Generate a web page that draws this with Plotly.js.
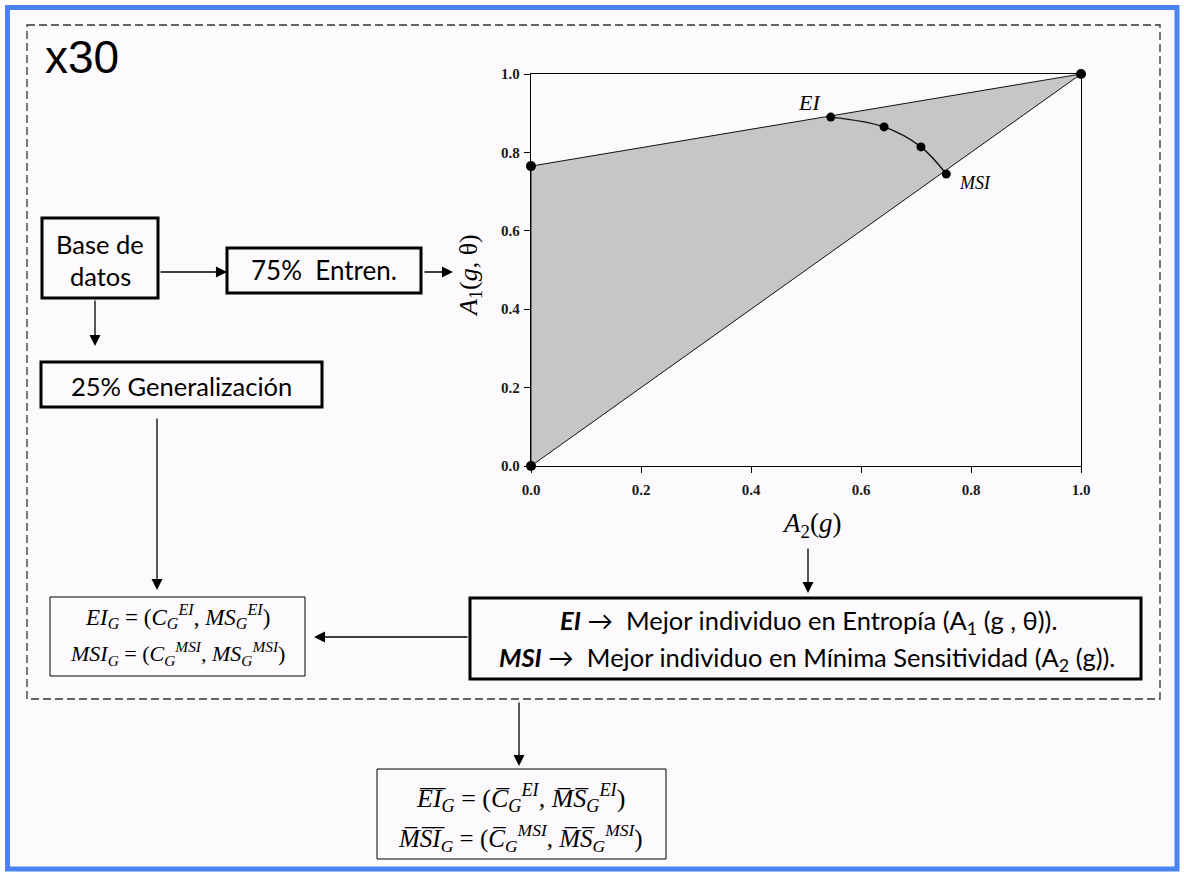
<!DOCTYPE html>
<html>
<head>
<meta charset="utf-8">
<script src="https://cdn.plot.ly/plotly-3.0.1.min.js"></script>
<style>html,body{margin:0;padding:0;background:#fff;}</style>
</head>
<body>
<div id="chart" style="width:1184px;height:875px;"></div>
<script>
// ---- data ----
const regionA2 = [0, 0, 1, 0];
const regionA1 = [0, 0.765, 1, 0];
const frontA2 = [0.545, 0.642, 0.709, 0.755];
const frontA1 = [0.89, 0.865, 0.814, 0.745];
const cornerA2 = [0, 0, 1];
const cornerA1 = [0, 0.765, 1];
const tickVals = [0, 0.2, 0.4, 0.6, 0.8, 1.0];
const tickText = ['0.0', '0.2', '0.4', '0.6', '0.8', '1.0'];
const labelEI = 'EI';
const labelMSI = 'MSI';

// ---- geometry helpers (pixel -> paper) ----
const W = 1184, H = 875;
const X = p => p / W;
const Y = p => 1 - p / H;

const SANS = 'Lato, "Open Sans", sans-serif';
const SERIF = '"Liberation Serif", "DejaVu Serif", serif';

const traces = [
  {x: regionA2, y: regionA1, mode: 'lines', fill: 'toself', fillcolor: '#c6c6c6',
   line: {color: '#111', width: 1}, hoverinfo: 'skip', cliponaxis: false},
  {x: frontA2, y: frontA1, mode: 'lines+markers', line: {color: '#111', width: 1.4, shape: 'spline'},
   marker: {color: '#000', size: 9}, cliponaxis: false},
  {x: cornerA2, y: cornerA1, mode: 'markers', marker: {color: '#000', size: 10}, cliponaxis: false}
];

function rect(x0, y0, x1, y1, w, extra) {
  return Object.assign({type: 'rect', xref: 'paper', yref: 'paper',
    x0: X(x0), x1: X(x1), y0: Y(y0), y1: Y(y1),
    line: {color: '#000', width: w}, fillcolor: 'rgba(0,0,0,0)'}, extra || {});
}

const shapes = [
  rect(7.5, 7.5, 1177, 869, 5, {line: {color: '#4a84f4', width: 5}, fillcolor: '#fdfafd', layer: 'below'}),
  rect(27, 25, 1160, 699, 1.3, {line: {color: '#333', width: 1.3, dash: '8px,4px'}}),
  rect(42, 218, 158, 298, 3),
  rect(227, 248, 421, 293, 3),
  rect(41, 362, 322, 407, 3),
  rect(50, 597, 305, 676, 1),
  rect(470, 598, 1141, 679, 3),
  rect(377, 769, 666, 859, 1)
];

function txt(x, y, text, size, family, extra) {
  return Object.assign({xref: 'paper', yref: 'paper', x: X(x), y: Y(y), text: text,
    showarrow: false, xanchor: 'center', yanchor: 'middle',
    font: {family: family, size: size, color: '#000'}}, extra || {});
}
function arrow(hx, hy, tx, ty) {
  return {xref: 'paper', yref: 'paper', x: X(hx), y: Y(hy), ax: tx - hx, ay: ty - hy,
    text: '', showarrow: true, arrowhead: 2, arrowsize: 1.7, arrowwidth: 1.3,
    arrowcolor: '#000', standoff: 0, startstandoff: 0};
}

const OL = s => s.split('').map(c => c + '\u0305').join('');

const annotations = [
  txt(43, 57, 'x30', 46, '"Liberation Sans", Arial, sans-serif', {xanchor: 'left'}),
  txt(100, 244, 'Base de', 25.5, SANS),
  txt(100, 276, 'datos', 25.5, SANS),
  txt(324, 270, '75%\u00a0 Entren.', 26, SANS),
  txt(181, 386, '25% Generalización', 25.5, SANS),
  txt(808, 622, '<b><i>EI</i></b> \u2192  Mejor individuo en Entropía (A<sub>1</sub> (g , θ)).', 25.5, SANS),
  txt(807, 659, '<b><i>MSI</i></b> \u2192  Mejor individuo en Mínima Sensitividad (A<sub>2</sub> (g)).', 25.5, SANS),
  txt(177, 616, '<i>EI</i><sub><i>G</i></sub> = (<i>C</i><sub><i>G</i></sub><sup><i>EI</i></sup>, <i>MS</i><sub><i>G</i></sub><sup><i>EI</i></sup>)', 23, SERIF),
  txt(177, 653, '<i>MSI</i><sub><i>G</i></sub> = (<i>C</i><sub><i>G</i></sub><sup><i>MSI</i></sup>, <i>MS</i><sub><i>G</i></sub><sup><i>MSI</i></sup>)', 22, SERIF),
  txt(520, 798, '<i>' + OL('EI') + '</i><sub><i>G</i></sub> = (<i>' + OL('C') + '</i><sub><i>G</i></sub><sup><i>EI</i></sup>, <i>' + OL('MS') + '</i><sub><i>G</i></sub><sup><i>EI</i></sup>)', 26, SERIF),
  txt(520, 838, '<i>' + OL('MSI') + '</i><sub><i>G</i></sub> = (<i>' + OL('C') + '</i><sub><i>G</i></sub><sup><i>MSI</i></sup>, <i>' + OL('MS') + '</i><sub><i>G</i></sub><sup><i>MSI</i></sup>)', 25, SERIF),
  // plot labels
  {xref: 'x', yref: 'y', x: frontA2[0], y: frontA1[0], text: '<i>' + labelEI + '</i>', showarrow: false,
   xshift: -21, yshift: 15, font: {family: SERIF, size: 22, color: '#000'}},
  {xref: 'x', yref: 'y', x: frontA2[3], y: frontA1[3], text: '<i>' + labelMSI + '</i>', showarrow: false,
   xshift: 29, yshift: -9, font: {family: SERIF, size: 18, color: '#000'}},
  txt(811, 525, '<i>A</i><sub>2</sub>(<i>g</i>)', 27, SERIF),
  txt(470, 276, '<i>A</i><sub>1</sub>(<i>g</i>, θ)', 26, SERIF, {textangle: -90}),
  // arrows
  arrow(227, 272, 159, 272),
  arrow(95, 346, 95, 299),
  arrow(453, 272, 423, 272),
  arrow(157, 590, 157, 417),
  arrow(808, 593, 808, 547),
  arrow(314, 637, 469, 637),
  arrow(519, 766, 519, 701)
];

const axisCommon = {
  range: [0, 1], showgrid: false, zeroline: false, showline: true, mirror: true,
  linecolor: '#000', linewidth: 1.2, ticks: 'outside', ticklen: 6, tickcolor: '#000',
  tickvals: tickVals, ticktext: tickText, fixedrange: true,
  tickfont: {family: SERIF, size: 15, color: '#1a1a1a', weight: 'bold'}
};

const layout = {
  width: W, height: H, margin: {l: 0, r: 0, t: 0, b: 0},
  paper_bgcolor: '#ffffff', plot_bgcolor: 'rgba(0,0,0,0)', showlegend: false,
  xaxis: Object.assign({}, axisCommon, {domain: [X(531), X(1081)], ticklabelstandoff: 4}),
  yaxis: Object.assign({}, axisCommon, {domain: [Y(466), Y(74)], ticklabelstandoff: 1}),
  shapes: shapes, annotations: annotations
};

Plotly.newPlot('chart', traces, layout, {staticPlot: true, displayModeBar: false});
</script>
</body>
</html>
